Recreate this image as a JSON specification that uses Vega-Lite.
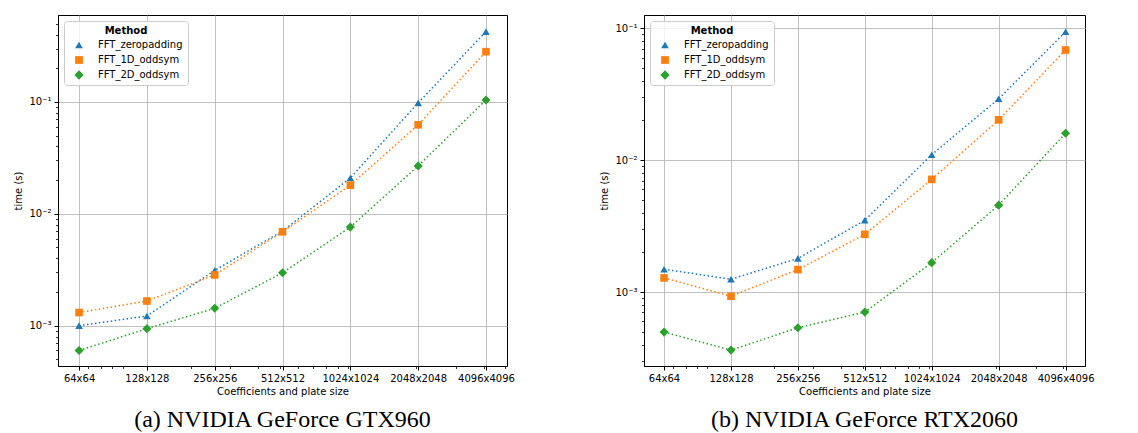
{
  "$schema": "https://vega.github.io/schema/vega-lite/v6.json",
  "background": "white",
  "padding": {"left": 13, "top": 14, "right": 4, "bottom": 0},
  "spacing": 84,
  "config": {
    "view": {"stroke": "black", "strokeWidth": 1},
    "font": "DejaVu Sans",
    "axis": {
      "labelFont": "DejaVu Sans", "labelFontSize": 10, "labelColor": "black",
      "titleFont": "DejaVu Sans", "titleFontSize": 10, "titleFontWeight": "normal", "titleColor": "black",
      "tickColor": "black", "domainColor": "black", "gridColor": "#b0b0b0", "gridWidth": 0.8, "gridOpacity": 1,
      "labelFlush": false, "labelOverlap": false
    },
    "legend": {
      "labelFont": "DejaVu Sans", "labelFontSize": 10, "labelColor": "black",
      "titleFont": "DejaVu Sans", "titleFontSize": 10, "titleFontWeight": "bold", "titleColor": "black"
    }
  },
  "datasets": {
    "gtx": [
      {"method": "FFT_zeropadding", "size": 64, "time": 0.00100},
      {"method": "FFT_zeropadding", "size": 128, "time": 0.00122},
      {"method": "FFT_zeropadding", "size": 256, "time": 0.00312},
      {"method": "FFT_zeropadding", "size": 512, "time": 0.00700},
      {"method": "FFT_zeropadding", "size": 1024, "time": 0.0209},
      {"method": "FFT_zeropadding", "size": 2048, "time": 0.098},
      {"method": "FFT_zeropadding", "size": 4096, "time": 0.425},
      {"method": "FFT_1D_oddsym", "size": 64, "time": 0.00131},
      {"method": "FFT_1D_oddsym", "size": 128, "time": 0.00166},
      {"method": "FFT_1D_oddsym", "size": 256, "time": 0.00284},
      {"method": "FFT_1D_oddsym", "size": 512, "time": 0.00690},
      {"method": "FFT_1D_oddsym", "size": 1024, "time": 0.0180},
      {"method": "FFT_1D_oddsym", "size": 2048, "time": 0.0624},
      {"method": "FFT_1D_oddsym", "size": 4096, "time": 0.281},
      {"method": "FFT_2D_oddsym", "size": 64, "time": 0.00060},
      {"method": "FFT_2D_oddsym", "size": 128, "time": 0.00094},
      {"method": "FFT_2D_oddsym", "size": 256, "time": 0.00143},
      {"method": "FFT_2D_oddsym", "size": 512, "time": 0.00297},
      {"method": "FFT_2D_oddsym", "size": 1024, "time": 0.0076},
      {"method": "FFT_2D_oddsym", "size": 2048, "time": 0.0268},
      {"method": "FFT_2D_oddsym", "size": 4096, "time": 0.104}
    ],
    "rtx": [
      {"method": "FFT_zeropadding", "size": 64, "time": 0.00149},
      {"method": "FFT_zeropadding", "size": 128, "time": 0.00125},
      {"method": "FFT_zeropadding", "size": 256, "time": 0.00180},
      {"method": "FFT_zeropadding", "size": 512, "time": 0.00350},
      {"method": "FFT_zeropadding", "size": 1024, "time": 0.0110},
      {"method": "FFT_zeropadding", "size": 2048, "time": 0.0292},
      {"method": "FFT_zeropadding", "size": 4096, "time": 0.094},
      {"method": "FFT_1D_oddsym", "size": 64, "time": 0.00128},
      {"method": "FFT_1D_oddsym", "size": 128, "time": 0.00093},
      {"method": "FFT_1D_oddsym", "size": 256, "time": 0.00148},
      {"method": "FFT_1D_oddsym", "size": 512, "time": 0.00274},
      {"method": "FFT_1D_oddsym", "size": 1024, "time": 0.00714},
      {"method": "FFT_1D_oddsym", "size": 2048, "time": 0.0202},
      {"method": "FFT_1D_oddsym", "size": 4096, "time": 0.0684},
      {"method": "FFT_2D_oddsym", "size": 64, "time": 0.000497},
      {"method": "FFT_2D_oddsym", "size": 128, "time": 0.000363},
      {"method": "FFT_2D_oddsym", "size": 256, "time": 0.000536},
      {"method": "FFT_2D_oddsym", "size": 512, "time": 0.000705},
      {"method": "FFT_2D_oddsym", "size": 1024, "time": 0.00167},
      {"method": "FFT_2D_oddsym", "size": 2048, "time": 0.00456},
      {"method": "FFT_2D_oddsym", "size": 4096, "time": 0.0160}
    ]
  },
  "resolve": {
    "scale": {"x": "independent", "y": "independent", "color": "independent", "shape": "independent"},
    "legend": {"color": "independent", "shape": "independent"}
  },
  "hconcat": [
    {
      "width": 449, "height": 351,
      "data": {"name": "gtx"},
      "title": {"text": "(a) NVIDIA GeForce GTX960", "orient": "bottom", "anchor": "middle", "font": "Liberation Serif", "fontSize": 24, "fontWeight": "normal", "color": "black", "offset": 12},
      "resolve": {"axis": {"x": "independent", "y": "independent"}},
      "layer": [
        {
          "mark": {"type": "line", "strokeDash": [1.5, 2.5], "strokeWidth": 1.5},
          "encoding": {
            "x": {"field": "size", "type": "quantitative",
              "scale": {"type": "log", "domain": [51.6, 5078], "nice": false, "zero": false},
              "axis": {"orient": "bottom", "values": [64, 128, 256, 512, 1024, 2048, 4096], "labelExpr": "datum.value + 'x' + datum.value", "grid": true, "tickSize": 4, "labelPadding": 3, "title": "Coefficients and plate size", "titlePadding": 3}},
            "y": {"field": "time", "type": "quantitative",
              "scale": {"type": "log", "domain": [0.000436, 0.598], "nice": false, "zero": false},
              "axis": {"orient": "left", "values": [0.001, 0.01, 0.1], "labelExpr": "datum.value > 0.05 ? '10⁻¹' : datum.value > 0.005 ? '10⁻²' : '10⁻³'", "grid": true, "tickSize": 4, "labelPadding": 3, "title": "time (s)", "titlePadding": 5}},
            "color": {"field": "method", "type": "nominal",
              "scale": {"domain": ["FFT_zeropadding", "FFT_1D_oddsym", "FFT_2D_oddsym"], "range": ["#1f77b4", "#ff7f0e", "#2ca02c"]}}
          }
        },
        {
          "mark": {"type": "point", "filled": true, "opacity": 1, "size": 58},
          "encoding": {
            "x": {"field": "size", "type": "quantitative",
              "axis": {"orient": "bottom", "values": [70, 80, 90, 100, 200, 300, 400, 500, 600, 700, 800, 900, 1000, 2000, 3000, 4000, 5000], "labels": false, "grid": false, "domain": false, "ticks": true, "tickSize": 2.5, "tickWidth": 0.8, "title": null}},
            "y": {"field": "time", "type": "quantitative",
              "axis": {"orient": "left", "values": [0.0005, 0.0006, 0.0007, 0.0008, 0.0009, 0.002, 0.003, 0.004, 0.005, 0.006, 0.007, 0.008, 0.009, 0.02, 0.03, 0.04, 0.05, 0.06, 0.07, 0.08, 0.09, 0.2, 0.3, 0.4, 0.5], "labels": false, "grid": false, "domain": false, "ticks": true, "tickSize": 2.5, "tickWidth": 0.8, "title": null}},
            "color": {"field": "method", "type": "nominal",
              "scale": {"domain": ["FFT_zeropadding", "FFT_1D_oddsym", "FFT_2D_oddsym"], "range": ["#1f77b4", "#ff7f0e", "#2ca02c"]},
              "legend": {"title": "Method", "orient": "top-left", "offset": 6, "titleAnchor": "middle", "titleAlign": "center", "padding": 5, "fillColor": "rgba(255,255,255,0.8)", "strokeColor": "#cccccc", "cornerRadius": 3, "symbolSize": 60, "symbolStrokeWidth": 0, "symbolOffset": 5, "labelOffset": 14, "rowPadding": 5, "titlePadding": 4}},
            "shape": {"field": "method", "type": "nominal",
              "scale": {"domain": ["FFT_zeropadding", "FFT_1D_oddsym", "FFT_2D_oddsym"], "range": ["triangle-up", "square", "M0,-1.2L1.2,0L0,1.2L-1.2,0Z"]},
              "legend": {"title": "Method"}}
          }
        }
      ]
    },
    {
      "width": 441, "height": 351,
      "data": {"name": "rtx"},
      "title": {"text": "(b) NVIDIA GeForce RTX2060", "orient": "bottom", "anchor": "middle", "font": "Liberation Serif", "fontSize": 24, "fontWeight": "normal", "color": "black", "offset": 12},
      "resolve": {"axis": {"x": "independent", "y": "independent"}},
      "layer": [
        {
          "mark": {"type": "line", "strokeDash": [1.5, 2.5], "strokeWidth": 1.5},
          "encoding": {
            "x": {"field": "size", "type": "quantitative",
              "scale": {"type": "log", "domain": [52, 5008], "nice": false, "zero": false},
              "axis": {"orient": "bottom", "values": [64, 128, 256, 512, 1024, 2048, 4096], "labelExpr": "datum.value + 'x' + datum.value", "grid": true, "tickSize": 4, "labelPadding": 3, "title": "Coefficients and plate size", "titlePadding": 3}},
            "y": {"field": "time", "type": "quantitative",
              "scale": {"type": "log", "domain": [0.000275, 0.126], "nice": false, "zero": false},
              "axis": {"orient": "left", "values": [0.001, 0.01, 0.1], "labelExpr": "datum.value > 0.05 ? '10⁻¹' : datum.value > 0.005 ? '10⁻²' : '10⁻³'", "grid": true, "tickSize": 4, "labelPadding": 3, "title": "time (s)", "titlePadding": 5}},
            "color": {"field": "method", "type": "nominal",
              "scale": {"domain": ["FFT_zeropadding", "FFT_1D_oddsym", "FFT_2D_oddsym"], "range": ["#1f77b4", "#ff7f0e", "#2ca02c"]}}
          }
        },
        {
          "mark": {"type": "point", "filled": true, "opacity": 1, "size": 58},
          "encoding": {
            "x": {"field": "size", "type": "quantitative",
              "axis": {"orient": "bottom", "values": [70, 80, 90, 100, 200, 300, 400, 500, 600, 700, 800, 900, 1000, 2000, 3000, 4000], "labels": false, "grid": false, "domain": false, "ticks": true, "tickSize": 2.5, "tickWidth": 0.8, "title": null}},
            "y": {"field": "time", "type": "quantitative",
              "axis": {"orient": "left", "values": [0.0003, 0.0004, 0.0005, 0.0006, 0.0007, 0.0008, 0.0009, 0.002, 0.003, 0.004, 0.005, 0.006, 0.007, 0.008, 0.009, 0.02, 0.03, 0.04, 0.05, 0.06, 0.07, 0.08, 0.09], "labels": false, "grid": false, "domain": false, "ticks": true, "tickSize": 2.5, "tickWidth": 0.8, "title": null}},
            "color": {"field": "method", "type": "nominal",
              "scale": {"domain": ["FFT_zeropadding", "FFT_1D_oddsym", "FFT_2D_oddsym"], "range": ["#1f77b4", "#ff7f0e", "#2ca02c"]},
              "legend": {"title": "Method", "orient": "top-left", "offset": 6, "titleAnchor": "middle", "titleAlign": "center", "padding": 5, "fillColor": "rgba(255,255,255,0.8)", "strokeColor": "#cccccc", "cornerRadius": 3, "symbolSize": 60, "symbolStrokeWidth": 0, "symbolOffset": 5, "labelOffset": 14, "rowPadding": 5, "titlePadding": 4}},
            "shape": {"field": "method", "type": "nominal",
              "scale": {"domain": ["FFT_zeropadding", "FFT_1D_oddsym", "FFT_2D_oddsym"], "range": ["triangle-up", "square", "M0,-1.2L1.2,0L0,1.2L-1.2,0Z"]},
              "legend": {"title": "Method"}}
          }
        }
      ]
    }
  ]
}
